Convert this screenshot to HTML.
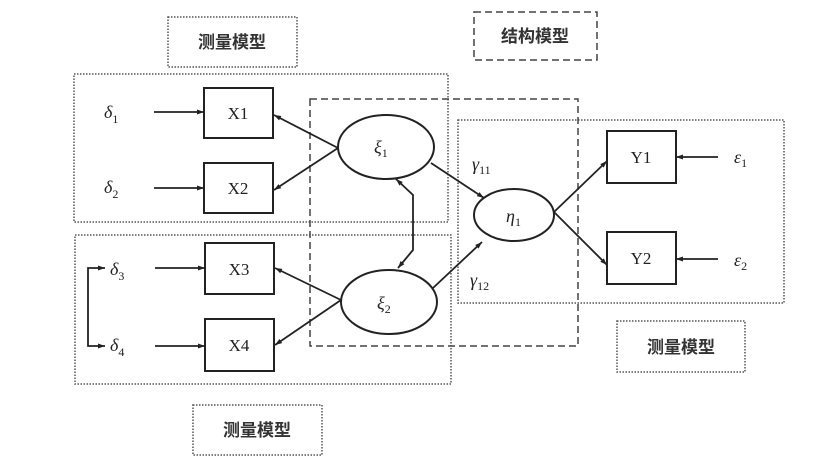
<!DOCTYPE html>
<html><head><meta charset="utf-8"><style>
html,body{margin:0;padding:0;background:#fff;}
svg{display:block;}
text{font-family:"Liberation Serif","Noto Serif CJK SC",serif;fill:#222;}
.cn{font-family:"Liberation Sans","Noto Sans CJK SC",sans-serif;font-weight:bold;font-size:17px;fill:#333;}
</style></head><body>
<svg width="839" height="472" viewBox="0 0 839 472" xmlns="http://www.w3.org/2000/svg">
<defs>
<marker id="a" viewBox="0 0 10 10" refX="10" refY="5" markerWidth="9" markerHeight="7" orient="auto-start-reverse" markerUnits="userSpaceOnUse">
<path d="M0,1.5 L10,5 L0,8.5 z" fill="#222"/></marker>
</defs>
<g fill="none" stroke="#555" stroke-width="1.5" stroke-dasharray="1.5,1.5">
<rect x="168" y="17" width="129" height="50"/>
<rect x="74" y="74" width="374" height="148"/>
<rect x="75" y="235" width="376" height="149"/>
<rect x="193" y="405" width="129" height="50"/>
<rect x="458" y="120" width="326" height="183"/>
<rect x="617" y="321" width="128" height="51"/>
</g>
<g fill="none" stroke="#444" stroke-width="1.5" stroke-dasharray="7,4">
<rect x="474" y="12" width="123" height="48"/>
<rect x="310" y="99" width="268" height="247"/>
</g>
<text class="cn" x="232" y="48" text-anchor="middle">测量模型</text>
<text class="cn" x="257" y="436" text-anchor="middle">测量模型</text>
<text class="cn" x="535" y="42" text-anchor="middle">结构模型</text>
<text class="cn" x="681" y="353" text-anchor="middle">测量模型</text>
<g fill="#fff" stroke="#222" stroke-width="2">
<rect x="204" y="88" width="69" height="50"/>
<rect x="204" y="163" width="69" height="50"/>
<rect x="205" y="243" width="69" height="51"/>
<rect x="205" y="319" width="69" height="52"/>
<rect x="607" y="131" width="69" height="52"/>
<rect x="607" y="232" width="69" height="52"/>
<ellipse cx="386" cy="147" rx="48" ry="32"/>
<ellipse cx="389" cy="302" rx="48" ry="32"/>
<ellipse cx="514" cy="215" rx="40" ry="26"/>
</g>
<g font-size="17" text-anchor="middle">
<text x="238" y="119">X1</text><text x="238" y="194">X2</text>
<text x="239" y="275">X3</text><text x="239" y="351">X4</text>
<text x="641" y="163">Y1</text><text x="641" y="264">Y2</text>
</g>
<g font-size="18" font-style="italic">
<text x="104" y="118">δ<tspan font-size="12" dy="5" font-style="normal">1</tspan></text>
<text x="104" y="193">δ<tspan font-size="12" dy="5" font-style="normal">2</tspan></text>
<text x="110" y="275">δ<tspan font-size="12" dy="5" font-style="normal">3</tspan></text>
<text x="110" y="351">δ<tspan font-size="12" dy="5" font-style="normal">4</tspan></text>
<text x="374" y="153">ξ<tspan font-size="12" dy="4" font-style="normal">1</tspan></text>
<text x="377" y="309">ξ<tspan font-size="12" dy="4" font-style="normal">2</tspan></text>
<text x="506" y="222">η<tspan font-size="12" dy="4" font-style="normal">1</tspan></text>
<text x="472" y="170">γ<tspan font-size="12" dy="4" font-style="normal">11</tspan></text>
<text x="470" y="286">γ<tspan font-size="12" dy="4" font-style="normal">12</tspan></text>
<text x="734" y="163">ε<tspan font-size="12" dy="4" font-style="normal">1</tspan></text>
<text x="734" y="266">ε<tspan font-size="12" dy="4" font-style="normal">2</tspan></text>
</g>
<g stroke="#222" stroke-width="1.8" fill="none" marker-end="url(#a)">
<line x1="154" y1="112" x2="204" y2="112"/>
<line x1="154" y1="188" x2="204" y2="188"/>
<line x1="155" y1="268" x2="205" y2="268"/>
<line x1="155" y1="346" x2="205" y2="346"/>
<line x1="338" y1="148" x2="274" y2="115"/>
<line x1="338" y1="148" x2="274" y2="190"/>
<line x1="341" y1="300" x2="275" y2="268"/>
<line x1="341" y1="300" x2="275" y2="345"/>
<line x1="431" y1="163" x2="484" y2="198"/>
<line x1="433" y1="288" x2="482" y2="242"/>
<line x1="554" y1="212" x2="607" y2="161"/>
<line x1="554" y1="212" x2="607" y2="265"/>
<line x1="718" y1="157" x2="676" y2="157"/>
<line x1="718" y1="259" x2="676" y2="259"/>
<polyline points="105,268 88,268 88,346 105,346" marker-start="url(#a)"/>
<polyline points="396,179 413,195 413,250 398,268" marker-start="url(#a)"/>
</g>
</svg>
</body></html>
